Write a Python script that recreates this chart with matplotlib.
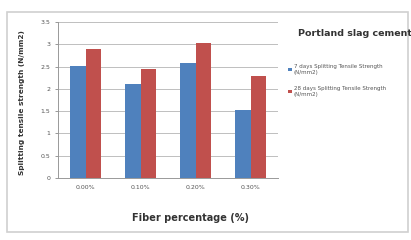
import numpy as np
import matplotlib
matplotlib.use('Agg')
import matplotlib.pyplot as plt
from matplotlib.patches import Rectangle

categories = ['0.00%', '0.10%', '0.20%', '0.30%']
days7 = [2.51, 2.12, 2.57, 1.53]
days28 = [2.89, 2.45, 3.03, 2.29]
yticks = [0, 0.5, 1, 1.5, 2, 2.5, 3, 3.5]
ytick_labels = ['0', '0.5', '1', '1.5', '2', '2.5', '3', '3.5']

blue = '#4F81BD'
red = '#C0504D'

fig = plt.figure(figsize=(4.11, 2.40), dpi=100)
W, H = 411, 240

# outer chart frame
fig.patches.append(Rectangle((7 / W, 1 - 232 / H), 401 / W, 220 / H,
                             transform=fig.transFigure, fill=False,
                             edgecolor='#d0d0d0', lw=1.2))

ax = fig.add_axes([58 / W, 1 - 178 / H, 220 / W, 156 / H])
x = np.arange(len(categories))
bw = 0.28
ax.bar(x - bw / 2, days7, bw, color=blue, zorder=3,
       label='7 days Splitting Tensile Strength\n(N/mm2)')
ax.bar(x + bw / 2, days28, bw, color=red, zorder=3,
       label='28 days Splitting Tensile Strength\n(N/mm2)')

ax.set_xlim(-0.5, 3.5)
ax.set_ylim(0, 3.5)
ax.set_yticks(yticks)
ax.set_yticklabels(ytick_labels)
ax.set_xticks(x)
ax.set_xticklabels(categories)
ax.tick_params(axis='both', labelsize=4.5, length=2, width=0.6,
               colors='#888888', labelcolor='#555555')
ax.tick_params(axis='x', length=0, pad=5)
ax.grid(axis='y', color='#bfbfbf', lw=0.7, zorder=0)
for s in ['top', 'right']:
    ax.spines[s].set_visible(False)
for s in ['left', 'bottom']:
    ax.spines[s].set_color('#999999')
    ax.spines[s].set_linewidth(0.7)

fig.text(22 / W, 1 - 103 / H, 'Splitting tensile strength (N/mm2)',
         rotation=90, ha='center', va='center', fontsize=5.3,
         fontweight='bold', color='#333333')
fig.text(190 / W, 1 - 218 / H, 'Fiber percentage (%)', ha='center',
         va='center', fontsize=7, fontweight='bold', color='#333333')
fig.text(298 / W, 1 - 33 / H, 'Portland slag cement', ha='left',
         va='center', fontsize=6.8, fontweight='bold', color='#333333')

ax.legend(loc='upper left', bbox_to_anchor=(286 / W, 1 - 62 / H),
          bbox_transform=fig.transFigure, frameon=False, fontsize=4,
          handlelength=0.6, handleheight=0.6, handletextpad=0.4,
          labelspacing=2.0, borderaxespad=0, labelcolor='#555555')

fig.savefig('out.png', dpi=100)
